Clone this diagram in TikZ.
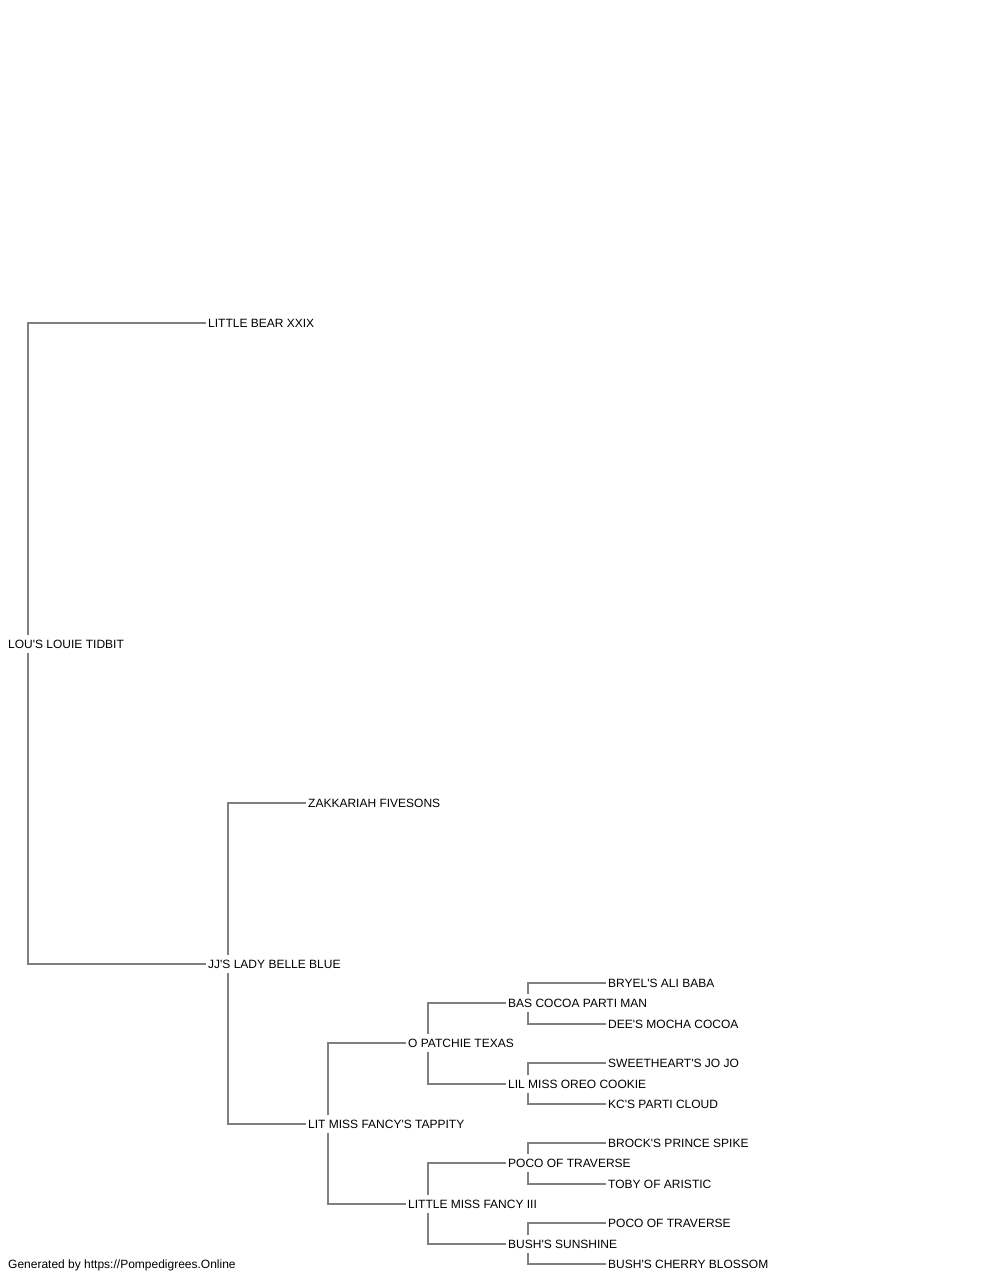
\documentclass[tikz,border=0pt]{standalone}
\usepackage{fontspec}
\setmainfont{Liberation Sans}[Ligatures=TeXOff]
\usetikzlibrary{backgrounds}
\definecolor{linegray}{RGB}{128,128,128}
\begin{document}
\begin{tikzpicture}[x=1pt,y=-1pt,
  horse/.style={anchor=west,fill=white,inner xsep=2pt,inner ysep=3pt,text height=10pt,text depth=2pt,font=\fontsize{12}{14}\selectfont},
  link/.style={draw=linegray,line width=1.3pt}]
\useasboundingbox (0,0) rectangle (1000,1280);

\node[horse] (lou) at (6,644) {LOU'S LOUIE TIDBIT};
\node[horse] (bear) at (206,323) {LITTLE BEAR XXIX};
\node[horse] (jj) at (206,964) {JJ'S LADY BELLE BLUE};
\node[horse] (zak) at (306,803) {ZAKKARIAH FIVESONS};
\node[horse] (tappity) at (306,1124) {LIT MISS FANCY'S TAPPITY};
\node[horse] (patchie) at (406,1043) {O PATCHIE TEXAS};
\node[horse] (fancy) at (406,1204) {LITTLE MISS FANCY III};
\node[horse] (bas) at (506,1003) {BAS COCOA PARTI MAN};
\node[horse] (oreo) at (506,1084) {LIL MISS OREO COOKIE};
\node[horse] (poco) at (506,1163) {POCO OF TRAVERSE};
\node[horse] (bush) at (506,1244) {BUSH'S SUNSHINE};
\node[horse] (ali) at (606,983) {BRYEL'S ALI BABA};
\node[horse] (mocha) at (606,1024) {DEE'S MOCHA COCOA};
\node[horse] (jojo) at (606,1063) {SWEETHEART'S JO JO};
\node[horse] (cloud) at (606,1104) {KC'S PARTI CLOUD};
\node[horse] (spike) at (606,1143) {BROCK'S PRINCE SPIKE};
\node[horse] (toby) at (606,1184) {TOBY OF ARISTIC};
\node[horse] (poco2) at (606,1223) {POCO OF TRAVERSE};
\node[horse] (cherry) at (606,1264) {BUSH'S CHERRY BLOSSOM};
\node[horse,fill=none] (credit) at (6,1264) {Generated by https://Pompedigrees.Online};

\begin{scope}[on background layer]
\draw[link] (bear.west) -| ([xshift=22pt]lou.west) |- (jj.west);
\draw[link] (zak.west) -| ([xshift=22pt]jj.west) |- (tappity.west);
\draw[link] (patchie.west) -| ([xshift=22pt]tappity.west) |- (fancy.west);
\draw[link] (bas.west) -| ([xshift=22pt]patchie.west) |- (oreo.west);
\draw[link] (poco.west) -| ([xshift=22pt]fancy.west) |- (bush.west);
\draw[link] (ali.west) -| ([xshift=22pt]bas.west) |- (mocha.west);
\draw[link] (jojo.west) -| ([xshift=22pt]oreo.west) |- (cloud.west);
\draw[link] (spike.west) -| ([xshift=22pt]poco.west) |- (toby.west);
\draw[link] (poco2.west) -| ([xshift=22pt]bush.west) |- (cherry.west);
\end{scope}
\end{tikzpicture}
\end{document}
